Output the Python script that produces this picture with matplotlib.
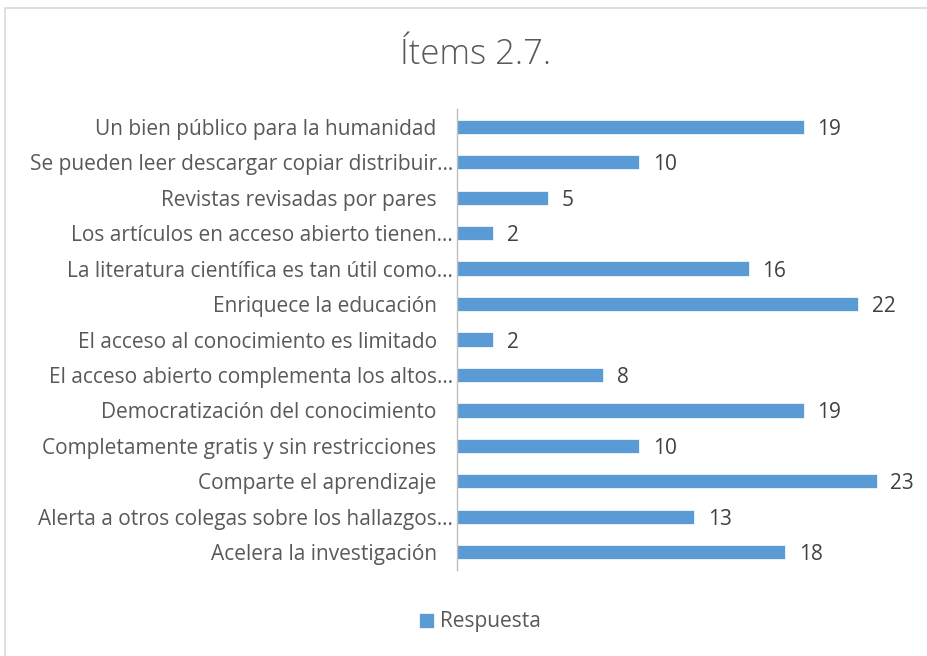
import matplotlib.pyplot as plt
from matplotlib.patches import Rectangle

labels = [
    "Un bien público para la humanidad",
    "Se pueden leer descargar copiar distribuir...",
    "Revistas revisadas por pares",
    "Los artículos en acceso abierto tienen...",
    "La literatura científica es tan útil como...",
    "Enriquece la educación",
    "El acceso al conocimiento es limitado",
    "El acceso abierto complementa los altos...",
    "Democratización del conocimiento",
    "Completamente gratis y sin restricciones",
    "Comparte el aprendizaje",
    "Alerta a otros colegas sobre los hallazgos...",
    "Acelera la investigación",
]
values = [19, 10, 5, 2, 16, 22, 2, 8, 19, 10, 23, 13, 18]
series_name = "Respuesta"

plt.rcParams['font.family'] = ['Open Sans', 'DejaVu Sans']

fig = plt.figure(figsize=(9.27, 6.56), dpi=100)
fig.patches.append(Rectangle((5 / 927, -0.02), 1.1, 1 - 8 / 656 + 0.02,
                             transform=fig.transFigure, fill=False,
                             edgecolor='#d9d9d9', linewidth=1.2))

ax = fig.add_axes([457 / 927, 1 - 570 / 656, (913 - 457) / 927, (570 - 109) / 656])

ypos = list(range(len(labels)))
bars = ax.barh(ypos, values, height=0.4, color='#5b9bd5', edgecolor='white',
               linewidth=0.5, label=series_name)
ax.set_ylim(len(labels) - 0.5, -0.5)
ax.set_xlim(0, 25)

ticklabels = [l if l.endswith('...') else l + '   ' for l in labels]
ax.set_yticks(ypos)
ax.set_yticklabels(ticklabels, fontsize=15, color='#595959')
ax.tick_params(axis='y', length=0, pad=3)
ax.set_xticks([])

for s in ['top', 'right', 'bottom']:
    ax.spines[s].set_visible(False)
ax.spines['left'].set_color('#bfbfbf')
ax.spines['left'].set_linewidth(1)

for b, v in zip(bars, values):
    ax.text(b.get_width() + 0.75, b.get_y() + b.get_height() / 2, str(v),
            va='center_baseline', ha='left', fontsize=15, color='#404040')

fig.text(476 / 927, 1 - 55 / 656, "Ítems 2.7.", ha='center', va='center',
         fontsize=25, color='#595959', fontweight='light')

fig.legend(loc='center', bbox_to_anchor=(480 / 927, 1 - 622 / 656), frameon=False,
           fontsize=15, labelcolor='#595959', handlelength=0.7, handleheight=0.7,
           handletextpad=0.3)

fig.savefig('out.png', dpi=100)
